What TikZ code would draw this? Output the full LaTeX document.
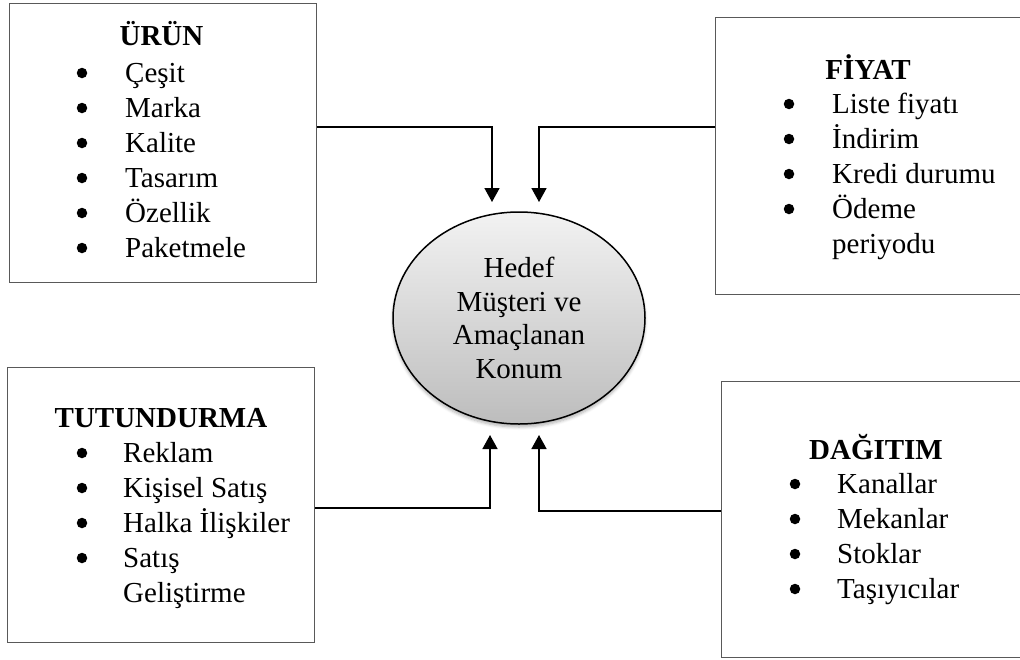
\documentclass[tikz,border=0pt]{standalone}
\usepackage{fontspec}
\setmainfont{Liberation Serif}
\usetikzlibrary{arrows.meta,shapes.geometric,shadows.blur}

\begin{document}
\begin{tikzpicture}[x=1pt,y=-1pt,
  box/.style={draw=black!65, line width=1.1pt, anchor=north west, inner sep=0pt},
  txt/.style={anchor=base west, inner sep=0pt, font=\fontsize{29}{35}\selectfont},
  ttl/.style={anchor=base, inner sep=0pt, font=\fontsize{29}{35}\selectfont\bfseries},
  blt/.style={circle, fill=black, draw=none, inner sep=0pt, outer sep=0pt, minimum size=10.5pt},
  conn/.style={line width=1.6pt, -{Triangle[width=15pt,length=14pt]}},
  hub/.style={ellipse, draw, line width=1.5pt, minimum width=252pt, minimum height=212pt,
    inner sep=0pt, top color=black!5, bottom color=black!26, align=center,
    font=\fontsize{29}{33.5}\selectfont,
    blur shadow={shadow xshift=0pt, shadow yshift=-3pt, shadow blur radius=3pt,
      shadow blur steps=5, shadow opacity=30}}
]
\useasboundingbox (0,0) rectangle (1020,659);
\clip (0,0) rectangle (1020,659);

% the four mix boxes (the right-hand ones run off the page)
\node[box, minimum width=307pt, minimum height=279pt] (urun) at (9,3) {};
\node[box, minimum width=310pt, minimum height=277pt] (fiyat) at (715,17) {};
\node[box, minimum width=307pt, minimum height=275pt] (tutun) at (7,367) {};
\node[box, minimum width=304pt, minimum height=276pt] (dagit) at (721,381) {};

% centre ellipse
\node[hub] (hedef) at (519,318) {Hedef\\Müşteri ve\\Amaçlanan\\Konum};

% product
\node[ttl] (urunT) at (161.5,45) {ÜRÜN};
\foreach \t [count=\i] in {Çeşit,Marka,Kalite,Tasarım,Özellik,Paketmele}{
  \node[blt] (urunB\i) at (82,38+35*\i) {};
  \node[txt] (urunI\i) at (125,47+35*\i) {\t};
}

% price
\node[ttl] (fiyatT) at (868,79) {FİYAT};
\foreach \t [count=\i] in {Liste fiyatı,İndirim,Kredi durumu,Ödeme}{
  \node[blt] (fiyatB\i) at (789,69+35*\i) {};
  \node[txt] (fiyatI\i) at (832,78+35*\i) {\t};
}
\node[txt] (fiyatI5) at (832,253) {periyodu};

% promotion
\node[ttl] (tutunT) at (161,427) {TUTUNDURMA};
\foreach \t [count=\i] in {Reklam,Kişisel Satış,Halka İlişkiler,Satış}{
  \node[blt] (tutunB\i) at (82,418+35*\i) {};
  \node[txt] (tutunI\i) at (123,427+35*\i) {\t};
}
\node[txt] (tutunI5) at (123,602) {Geliştirme};

% distribution
\node[ttl] (dagitT) at (876,459) {DAĞITIM};
\foreach \t [count=\i] in {Kanallar,Mekanlar,Stoklar,Taşıyıcılar}{
  \node[blt] (dagitB\i) at (795,449+35*\i) {};
  \node[txt] (dagitI\i) at (837,458+35*\i) {\t};
}

% connectors into the ellipse
\coordinate (bendA) at (492,127);  \coordinate (tipA) at (492,202);
\coordinate (bendB) at (539,127);  \coordinate (tipB) at (539,202);
\coordinate (bendC) at (490,508);  \coordinate (tipC) at (490,435);
\coordinate (bendD) at (539,511);  \coordinate (tipD) at (539,435);

\draw[conn] (urun.east |- bendA) -- (bendA) -- (tipA);
\draw[conn] (fiyat.west |- bendB) -- (bendB) -- (tipB);
\draw[conn] (tutun.east |- bendC) -- (bendC) -- (tipC);
\draw[conn] (dagit.west |- bendD) -- (bendD) -- (tipD);
\end{tikzpicture}
\end{document}
